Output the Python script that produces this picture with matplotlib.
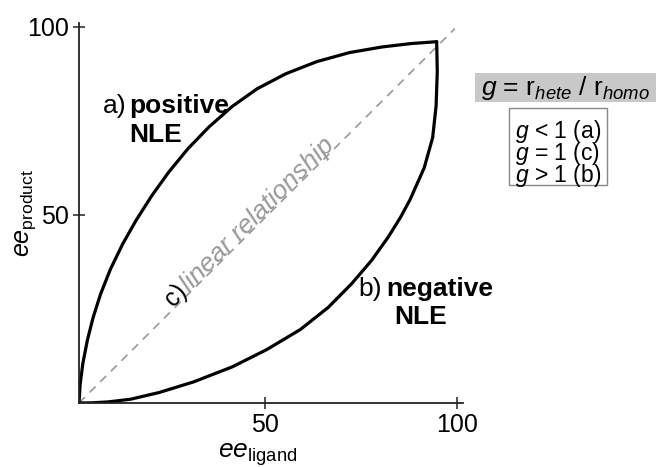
import matplotlib
matplotlib.use('Agg')
import matplotlib.pyplot as plt
from matplotlib.patches import Rectangle

plt.rcParams['font.family'] = ['Liberation Sans', 'DejaVu Sans']
plt.rcParams['mathtext.fontset'] = 'custom'
plt.rcParams['mathtext.rm'] = 'Liberation Sans'
plt.rcParams['mathtext.it'] = 'Liberation Sans:italic'
plt.rcParams['mathtext.bf'] = 'Liberation Sans:bold'

# a) positive NLE curve (ee_ligand, ee_product)
pos_x = [1.6, 1.9, 2.6, 3.8, 5.3, 7.2, 9.8, 13.0, 16.5, 20.5, 25.0, 30.0, 35.5, 41.5,
         48.0, 55.5, 63.5, 72.0, 80.5, 88.0, 94.75]
pos_y = [0.0, 5.0, 10.5, 16.8, 22.8, 28.9, 35.6, 42.3, 48.6, 55.0, 61.4, 67.6, 73.4, 78.8,
         83.5, 87.5, 90.7, 93.1, 94.6, 95.5, 96.0]

# b) negative NLE curve
neg_x = [1.6, 5.0, 9.2, 15.0, 22.5, 31.4, 41.5, 50.5, 59.2, 66.5, 72.6, 77.8, 82.2, 85.3,
         87.8, 91.5, 93.7, 94.6, 94.9, 94.75]
neg_y = [0.0, 0.05, 0.3, 1.0, 2.8, 5.6, 9.6, 14.2, 19.5, 25.4, 31.7, 37.9, 44.2, 49.3,
         54.0, 62.5, 70.5, 79.0, 88.0, 96.0]

# c) linear relationship
lin_x = [1.6, 99.5]
lin_y = [0.0, 99.5]

xticks = [50, 100]
yticks = [50, 100]

box_lines = [r'$\mathit{g}$ < 1 (a)', r'$\mathit{g}$ = 1 (c)', r'$\mathit{g}$ > 1 (b)']

fig = plt.figure(figsize=(6.6, 4.67), dpi=100)
ax = fig.add_axes([0.1197, 0.137, 0.5818, 0.814])

ax.plot(lin_x, lin_y, color='#999999', lw=1.2, dashes=(5, 4))
ax.plot(pos_x, pos_y, color='black', lw=2.3, solid_joinstyle='round', solid_capstyle='round')
ax.plot(neg_x, neg_y, color='black', lw=2.3, solid_joinstyle='round', solid_capstyle='round')

ax.set_xlim(1.6, 101.6)
ax.set_ylim(0, 101)
ax.set_xticks(xticks)
ax.set_yticks(yticks)
ax.tick_params(direction='inout', length=9, width=1.1, color='#222222', labelsize=18, pad=3)
for s in ['top', 'right']:
    ax.spines[s].set_visible(False)
for s in ['left', 'bottom']:
    ax.spines[s].set_linewidth(1.3)
    ax.spines[s].set_color('#222222')

ax.set_xlabel(r'$\mathit{ee}_{\mathrm{ligand}}$', fontsize=19)
ax.xaxis.set_label_coords(0.466, -0.100)
ax.set_ylabel(r'$\mathit{ee}_{\mathrm{product}}$', fontsize=18)
ax.yaxis.set_label_coords(-0.107, 0.5)

# curve labels
ax.text(7.85, 77.1, 'a)', fontsize=19, ha='left', va='baseline')
ax.text(14.6, 77.1, 'positive', fontsize=19, fontweight='bold', ha='left', va='baseline')
ax.text(14.6, 69.4, 'NLE', fontsize=19, fontweight='bold', ha='left', va='baseline')
ax.text(74.3, 28.5, 'b)', fontsize=19, ha='left', va='baseline')
ax.text(81.6, 28.5, 'negative', fontsize=19, fontweight='bold', ha='left', va='baseline')
ax.text(83.8, 21.0, 'NLE', fontsize=19, fontweight='bold', ha='left', va='baseline')
ax.text(30.0, 29.3, 'c)', fontsize=18, rotation=45, rotation_mode='anchor',
        ha='right', va='baseline')
ax.text(30.4, 29.3, 'linear relationship', fontsize=19, style='italic', color='#999999',
        rotation=45, rotation_mode='anchor', ha='left', va='baseline')

# g definition box
fig.patches.append(Rectangle((0.7197, 0.7816), 0.274, 0.0621, transform=fig.transFigure,
                             facecolor='#c8c8c8', edgecolor='none'))
fig.text(0.857, 0.8125, r'$\mathit{g}$ = r$_{\mathit{hete}}$ / r$_{\mathit{homo}}$',
         fontsize=19, ha='center', va='center')
fig.patches.append(Rectangle((0.7712, 0.6039), 0.1485, 0.1649, transform=fig.transFigure,
                             facecolor='white', edgecolor='#888888', lw=1.0))
for i, line in enumerate(box_lines):
    fig.text(0.7803, 1 - (138 + 22 * i) / 467, line, fontsize=16.5, ha='left', va='baseline')

fig.savefig('out.png', dpi=100)
